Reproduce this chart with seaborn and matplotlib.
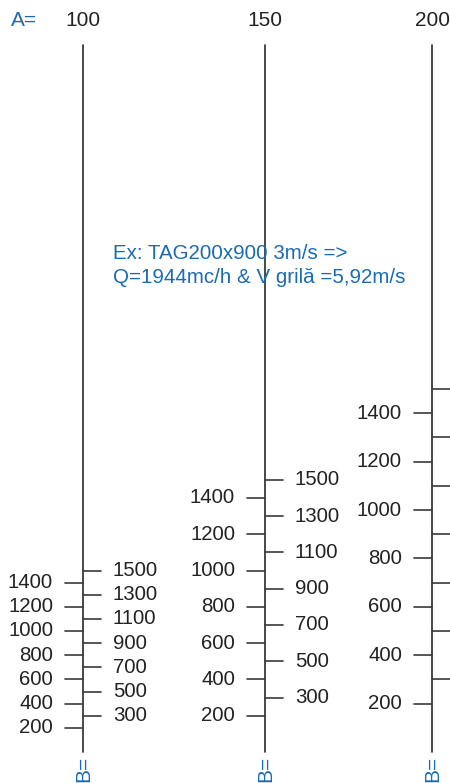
import numpy as np
import pandas as pd
import matplotlib
matplotlib.use("Agg")
import matplotlib.pyplot as plt
import seaborn as sns

# grille widths A (mm) and heights B (mm)
a_values = [100, 150, 200]
b_left = [200, 400, 600, 800, 1000, 1200, 1400]
b_right = [300, 500, 700, 900, 1100, 1300, 1500]
example_lines = ["Ex: TAG200x900 3m/s =>", "Q=1944mc/h & V grilă =5,92m/s"]

# layout (pixels of a 450x783 canvas)
W, H = 450, 783
col_x = [83, 265, 432]
zero_px = 752          # where area A*B = 0 sits
px_per_area = 0.00121  # vertical pixels per mm2 of A*B
top_px = 45
tick_len = 18
label_gap = 30
blue = "#1b6bb3"
ink = "#2a2a2a"

sns.set_theme(style="white")
plt.rcParams["font.family"] = ["Liberation Sans", "DejaVu Sans"]


def area_of_px(y_px):
    return (zero_px - y_px) / px_per_area


# long-form segments: the three vertical scales and all their ticks
rows = []
seg = 0
for a, x in zip(a_values, col_x):
    rows += [(x, 0.0, seg, "axis"), (x, area_of_px(top_px), seg, "axis")]
    seg += 1
    for b in b_left:
        rows += [(x - tick_len, a * b, seg, "tick"), (x, a * b, seg, "tick")]
        seg += 1
    for b in b_right:
        rows += [(x, a * b, seg, "tick"), (x + tick_len, a * b, seg, "tick")]
        seg += 1
segs = pd.DataFrame(rows, columns=["x", "area", "seg", "kind"])

fig = plt.figure(figsize=(W / 100, H / 100), dpi=100)
ax = fig.add_axes([0, 0, 1, 1])
ax.set_xlim(0, W)
ax.set_ylim(area_of_px(H), area_of_px(0))
ax.set_axis_off()

sns.lineplot(data=segs[segs.kind == "axis"], x="x", y="area", units="seg",
             estimator=None, sort=False, color=ink, lw=1.2, ax=ax)
sns.lineplot(data=segs[segs.kind == "tick"], x="x", y="area", units="seg",
             estimator=None, sort=False, color="#3a3a3a", lw=1.2, ax=ax)

fs = 14.7
for a, x in zip(a_values, col_x):
    for b in b_left:
        ax.text(x - label_gap, a * b, str(b), ha="right", va="center",
                fontsize=fs, color="#222222")
    if x + label_gap + 20 < W:
        for b in b_right:
            ax.text(x + label_gap, a * b, str(b), ha="left", va="center",
                    fontsize=fs, color="#222222")
    ax.text(x, area_of_px(20), str(a), ha="center", va="center",
            fontsize=15, color="#222222")
    ax.text(x + 1, area_of_px(769), "B=", ha="center", va="center",
            rotation=90, fontsize=15, color=blue)

ax.text(11, area_of_px(20), "A=", ha="left", va="center", fontsize=15,
        color=blue)
for i, line in enumerate(example_lines):
    ax.text(113, area_of_px(259 + 24 * i), line, ha="left", va="baseline",
            fontsize=14.8, color=blue)

fig.savefig("out.png", dpi=100)
